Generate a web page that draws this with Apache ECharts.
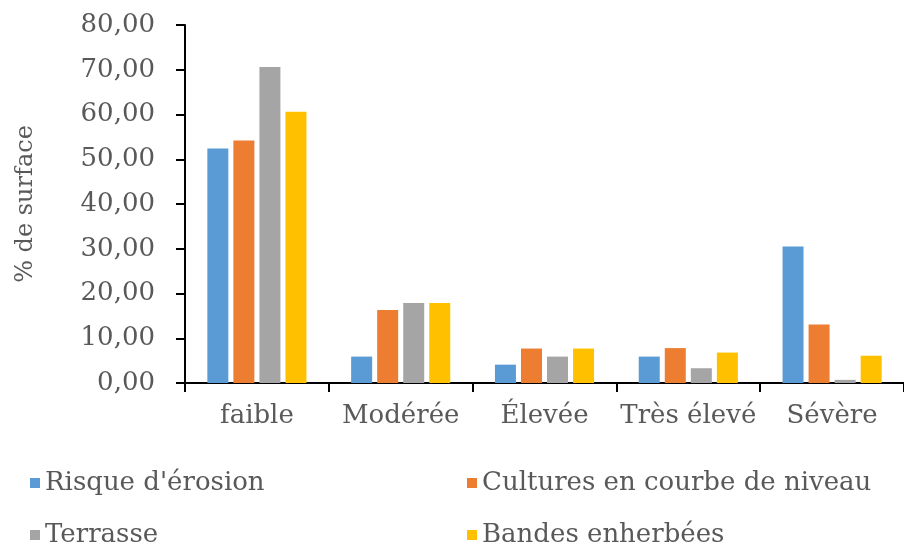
<!DOCTYPE html>
<html>
<head>
<meta charset="utf-8">
<script src="https://cdn.jsdelivr.net/npm/echarts@6/dist/echarts.min.js"></script>
<style>html,body{margin:0;padding:0;background:#fff;}#c{width:904px;height:548px;}</style>
</head>
<body>
<div id="c"></div>
<script>
var categories = ['faible', 'Modérée', 'Élevée', 'Très élevé', 'Sévère'];
var seriesNames = ["Risque d'érosion", 'Cultures en courbe de niveau', 'Terrasse', 'Bandes enherbées'];
var risque = [52.4, 5.9, 4.1, 5.9, 30.5];
var cultures = [54.2, 16.3, 7.7, 7.8, 13.1];
var terrasse = [70.6, 17.9, 5.9, 3.3, 0.7];
var bandes = [60.6, 17.9, 7.7, 6.8, 6.1];
var colors = ['#5B9BD5', '#ED7D31', '#A5A5A5', '#FFC000'];
var yMin = 0, yMax = 80, yStep = 10;

var values = [risque, cultures, terrasse, bandes];
var font = 'DejaVu Serif';
var textColor = '#595959';

var chart = echarts.init(document.getElementById('c'));
var legendPos = [
  {left: 30, top: 470},
  {left: 467, top: 470},
  {left: 30, top: 522},
  {left: 467, top: 522}
];
var legends = seriesNames.map(function (n, i) {
  return {
    data: [n], left: legendPos[i].left, top: legendPos[i].top,
    padding: 0,
    itemWidth: 10, itemHeight: 10, itemGap: 5, icon: 'rect',
    selectedMode: false,
    textStyle: {fontFamily: font, fontSize: 26, color: textColor}
  };
});
chart.setOption({
  animation: false,
  color: colors,
  legend: legends,
  grid: {left: 185, top: 25, width: 727, height: 358, containLabel: false},
  xAxis: {
    type: 'category',
    data: categories,
    axisLine: {lineStyle: {color: '#000', width: 2}},
    axisTick: {show: true, length: 9, lineStyle: {color: '#000', width: 2}},
    axisLabel: {fontFamily: font, fontSize: 26, color: textColor, margin: 20, interval: 0}
  },
  yAxis: {
    type: 'value',
    min: yMin, max: yMax, interval: yStep,
    name: '% de surface',
    nameLocation: 'middle',
    nameGap: 147,
    nameRotate: 90,
    nameTextStyle: {fontFamily: font, fontSize: 24, color: textColor},
    splitLine: {show: false},
    axisLine: {show: true, lineStyle: {color: '#000', width: 2}},
    axisTick: {show: true, length: 9, lineStyle: {color: '#000', width: 2}},
    axisLabel: {
      fontFamily: font, fontSize: 26, color: textColor, margin: 30,
      formatter: function (v) { return v.toFixed(2).replace('.', ','); }
    }
  },
  series: values.map(function (d, i) {
    return {
      name: seriesNames[i], type: 'bar', data: d,
      barWidth: 21, barGap: '24%',
      itemStyle: {color: colors[i]},
      emphasis: {disabled: true}
    };
  })
});
</script>
</body>
</html>
